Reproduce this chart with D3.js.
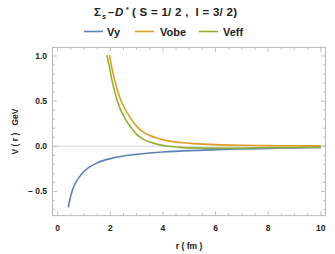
<!DOCTYPE html>
<html><head><meta charset="utf-8">
<script src="https://cdn.jsdelivr.net/npm/d3@7"></script>
<style>body{margin:0;background:#fff}svg{display:block}text{font-family:"Liberation Sans",Arial,sans-serif;font-weight:bold;fill:#222}</style>
</head><body>
<script>
// data
const vyR   = [0.4,0.5,0.6,0.7,0.8,1.0,1.2,1.5,2.0,2.5,3.0,3.5,4,5,6,7,8,9,10];
const vyV   = [-0.676,-0.545,-0.455,-0.395,-0.35,-0.28,-0.232,-0.184,-0.137,-0.108,-0.089,-0.075,-0.064,-0.048,-0.038,-0.03,-0.024,-0.019,-0.015];
const vobeR = [1.97,2.05,2.15,2.28,2.43,2.6,2.8,3.0,3.25,3.5,3.8,4.2,4.65,5.2,6,7,8,9,10];
const vobeV = [1.01,0.88,0.75,0.61,0.49,0.39,0.30,0.22,0.16,0.12,0.088,0.06,0.042,0.029,0.018,0.011,0.007,0.005,0.004];
const veffR = [1.87,1.97,2.05,2.15,2.28,2.43,2.6,2.8,3.0,3.25,3.5,3.8,4.2,4.65,5.2,6,7,8,9,10];
const veffV = [1.01,0.873,0.75,0.625,0.49,0.38,0.287,0.204,0.132,0.079,0.046,0.021,0.0,-0.012,-0.018,-0.021,-0.02,-0.016,-0.013,-0.01];
const seriesNames = ["Vy","Vobe","Veff"];
const colors = ["#5E81B5","#E19C24","#8FB032"];
const xTicks = [0,2,4,6,8,10];
const yTicks = [-0.5,0,0.5,1.0];
const yTickLabels = ["\u2013 0.5","0.0","0.5","1.0"];

const W=335,H=254;
const svg=d3.select("body").append("svg").attr("width",W).attr("height",H);
const L=52.5,R=325.5,T=47.3,B=215.7;
const x=d3.scaleLinear().domain([-0.198,10.18]).range([L,R]);
const y=d3.scaleLinear().domain([-0.769,1.096]).range([B,T]);

// zero line
svg.append("line").attr("x1",L).attr("x2",R).attr("y1",y(0)).attr("y2",y(0))
  .attr("stroke","#e3e3e3").attr("stroke-width",1.5);

svg.append("clipPath").attr("id","c").append("rect").attr("x",L).attr("y",T).attr("width",R-L).attr("height",B-T);

const data=[[vyR,vyV],[vobeR,vobeV],[veffR,veffV]];
const line=d3.line().x(d=>x(d[0])).y(d=>y(d[1])).curve(d3.curveMonotoneX);
data.forEach((s,i)=>{
  const pts=s[0].map((r,j)=>[r,s[1][j]]);
  svg.append("path").attr("d",line(pts)).attr("fill","none").attr("stroke",colors[i])
    .attr("stroke-width",1.6).attr("clip-path","url(#c)");
});

// frame
const fc="#a8a8a8";
svg.append("rect").attr("x",L).attr("y",T).attr("width",R-L).attr("height",B-T)
  .attr("fill","none").attr("stroke",fc).attr("stroke-width",0.8);

// ticks
const g=svg.append("g").attr("stroke",fc).attr("stroke-width",0.7);
d3.range(0,10.01,0.5).forEach(v=>{
  const maj=Math.abs(v/2-Math.round(v/2))<1e-6;
  const len=maj?4.5:2.5;
  g.append("line").attr("x1",x(v)).attr("x2",x(v)).attr("y1",B).attr("y2",B-len);
  g.append("line").attr("x1",x(v)).attr("x2",x(v)).attr("y1",T).attr("y2",T+len);
});
d3.range(-7,11).map(k=>k/10).forEach(v=>{
  const maj=Math.abs(v*2-Math.round(v*2))<1e-6;
  const len=maj?4.5:2.5;
  g.append("line").attr("y1",y(v)).attr("y2",y(v)).attr("x1",L).attr("x2",L+len);
  g.append("line").attr("y1",y(v)).attr("y2",y(v)).attr("x1",R).attr("x2",R-len);
});

// tick labels
xTicks.forEach(v=>{
  svg.append("text").attr("x",x(v)).attr("y",230.5).attr("text-anchor","middle")
    .attr("font-size",8.5).text(String(v));
});
yTicks.forEach((v,i)=>{
  svg.append("text").attr("x",47).attr("y",y(v)+3).attr("text-anchor","end")
    .attr("font-size",8.5).attr("xml:space","preserve").text(yTickLabels[i]);
});

// axis labels
svg.append("text").attr("x",(L+R)/2).attr("y",249).attr("text-anchor","middle")
  .attr("font-size",8.5).attr("xml:space","preserve").text("r ( fm )");
svg.append("text").attr("transform",`translate(18,${(T+B)/2}) rotate(-90)`).attr("text-anchor","middle")
  .attr("font-size",8.5).attr("xml:space","preserve").text("V ( r )   GeV");

// title
const t=svg.append("text").attr("y",16).attr("font-size",11.5).attr("xml:space","preserve");
t.append("tspan").attr("x",94).text("\u03A3");
t.append("tspan").attr("x",102).attr("font-size",7.5).attr("font-style","italic").attr("dy",2.5).text("s");
t.append("tspan").attr("x",108).attr("dy",-2.5).text("\u2013");
t.append("tspan").attr("x",115).attr("font-style","italic").text("D");
t.append("tspan").attr("x",126).attr("font-size",7).attr("dy",-4).text("*");
t.append("tspan").attr("x",132).attr("dy",4).attr("textLength",105).text("( S = 1/ 2 ,  I = 3/ 2)");

// legend
const lx=[84,135,199], tx=[107,160,223];
seriesNames.forEach((n,i)=>{
  svg.append("line").attr("x1",lx[i]).attr("x2",lx[i]+19).attr("y1",31.5).attr("y2",31.5)
    .attr("stroke",colors[i]).attr("stroke-width",1.6);
  svg.append("text").attr("x",tx[i]).attr("y",35.5).attr("font-size",11).text(n);
});
</script>
</body></html>
